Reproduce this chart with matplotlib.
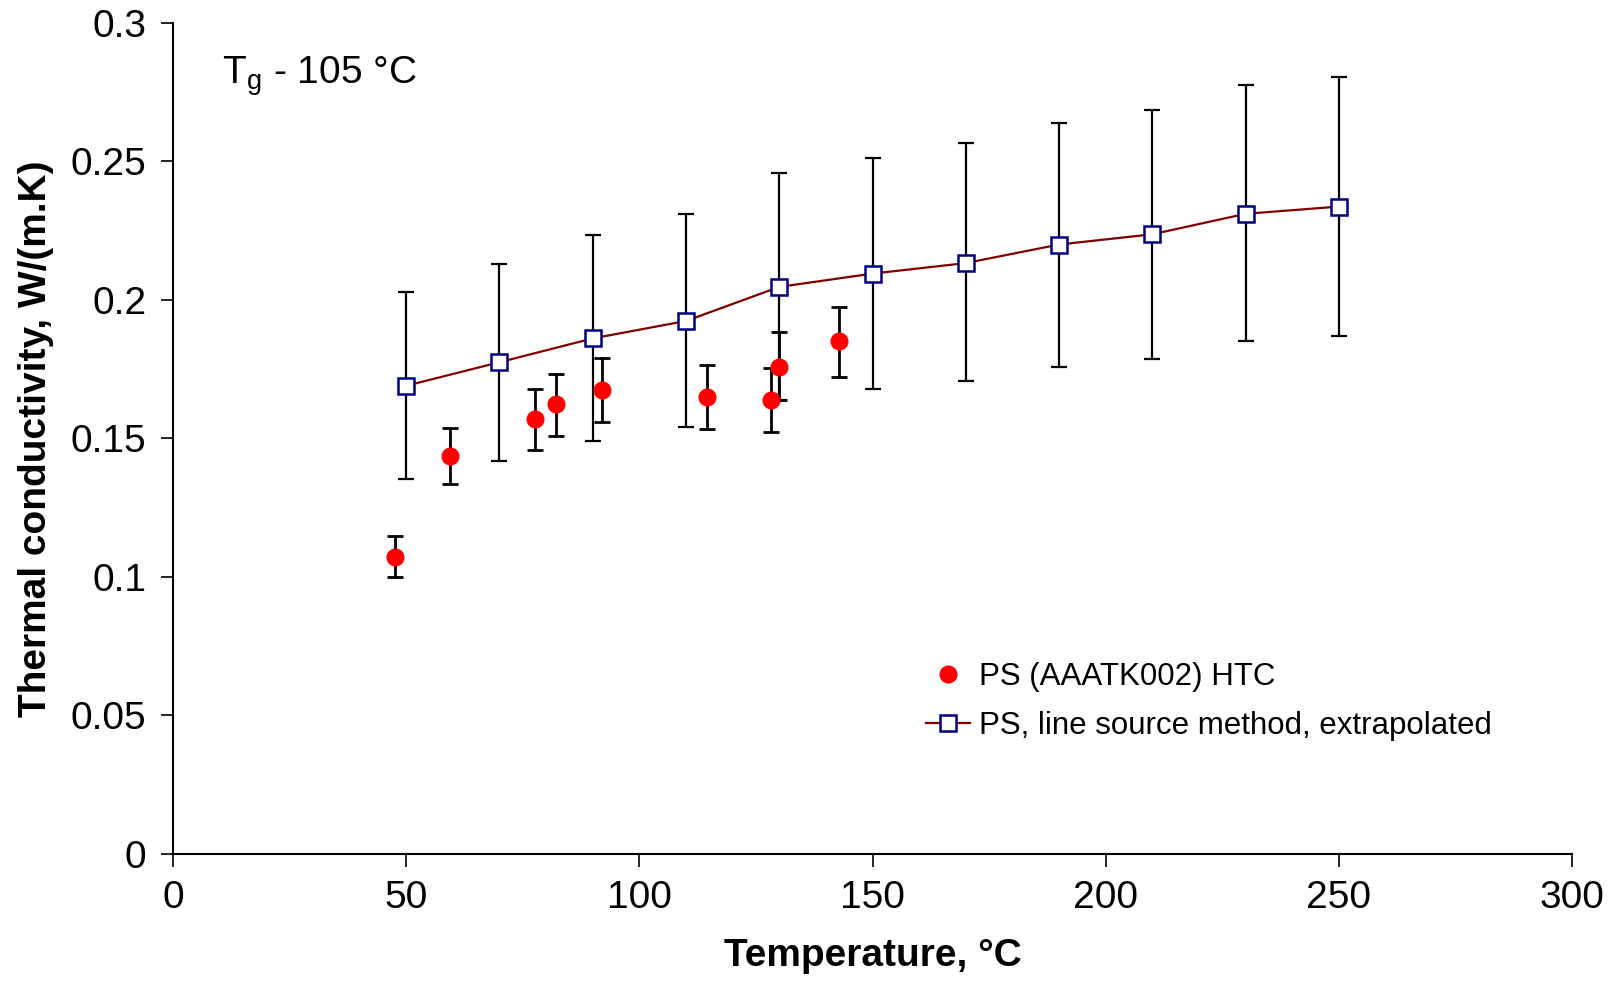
import matplotlib.pyplot as plt
import numpy as np

plt.rcParams['font.family'] = ['Liberation Sans', 'DejaVu Sans']

# HTC measurements (red dots)
htc_temp = [47.6, 59.3, 77.7, 82.1, 91.9, 114.5, 128.2, 130.0, 142.8]
htc_k = [0.1072, 0.1437, 0.1571, 0.1623, 0.1675, 0.1649, 0.1638, 0.1757, 0.185]
htc_low = [0.0998, 0.1336, 0.1459, 0.1507, 0.156, 0.1533, 0.1522, 0.1638, 0.172]
htc_high = [0.1146, 0.1537, 0.1679, 0.1734, 0.179, 0.1764, 0.1753, 0.1883, 0.1976]

# line source method, extrapolated (blue squares)
ls_temp = [50, 70, 90, 110, 130, 150, 170, 190, 210, 230, 250]
ls_k = [0.169, 0.1775, 0.1861, 0.1924, 0.2047, 0.2095, 0.2133, 0.22, 0.2237, 0.2311, 0.2337]
ls_low = [0.1355, 0.1418, 0.1489, 0.1541, 0.1638, 0.1679, 0.1708, 0.1757, 0.1787, 0.185, 0.1868]
ls_high = [0.2028, 0.2129, 0.2233, 0.2311, 0.2457, 0.2512, 0.2565, 0.2639, 0.2684, 0.2777, 0.2806]

fig = plt.figure(figsize=(16.18, 9.94), dpi=100)
ax = fig.add_axes([0.1069, 0.141, 0.8647, 0.8359])

k = np.array(htc_k)
err = [k - np.array(htc_low), np.array(htc_high) - k]
ax.errorbar(htc_temp, htc_k, yerr=err, fmt='none', ecolor='black',
            elinewidth=2, capsize=6, capthick=2, zorder=2)
red, = ax.plot(htc_temp, htc_k, 'o', color='red', ms=12, ls='none',
               label='PS (AAATK002) HTC', zorder=3)

k2 = np.array(ls_k)
err2 = [k2 - np.array(ls_low), np.array(ls_high) - k2]
ax.errorbar(ls_temp, ls_k, yerr=err2, fmt='none', ecolor='black',
            elinewidth=1.6, capsize=6, capthick=1.6, zorder=2)
blue, = ax.plot(ls_temp, ls_k, color='#800000', lw=1.6, marker='s', ms=11,
                mfc='white', mec='#000080', mew=1.8,
                label='PS, line source method, extrapolated', zorder=4)

ax.set_xlim(0, 300)
ax.set_ylim(0, 0.3)
ax.set_xticks([0, 50, 100, 150, 200, 250, 300])
ax.set_yticks([0, 0.05, 0.1, 0.15, 0.2, 0.25, 0.3])
ax.set_yticklabels(['0', '0.05', '0.1', '0.15', '0.2', '0.25', '0.3'])
ax.tick_params(labelsize=28, length=9, width=1.2, direction='out', pad=10)
ax.spines['top'].set_visible(False)
ax.spines['right'].set_visible(False)
ax.spines['left'].set_linewidth(1.5)
ax.spines['bottom'].set_linewidth(1.5)

ax.set_xlabel('Temperature, °C', fontsize=28, fontweight='bold', labelpad=16)
ax.set_ylabel('Thermal conductivity, W/(m.K)', fontsize=28, fontweight='bold', labelpad=12)

ax.text(0.035, 0.936, r'T$_{\mathregular{g}}$ - 105 °C', transform=ax.transAxes,
        fontsize=28, va='center')

ax.legend(handles=[red, blue], loc='upper left', bbox_to_anchor=(0.518, 0.265),
          frameon=False, fontsize=22.5, handlelength=1.4, handletextpad=0.3,
          labelspacing=0.6)

fig.savefig('out.png', dpi=100)
